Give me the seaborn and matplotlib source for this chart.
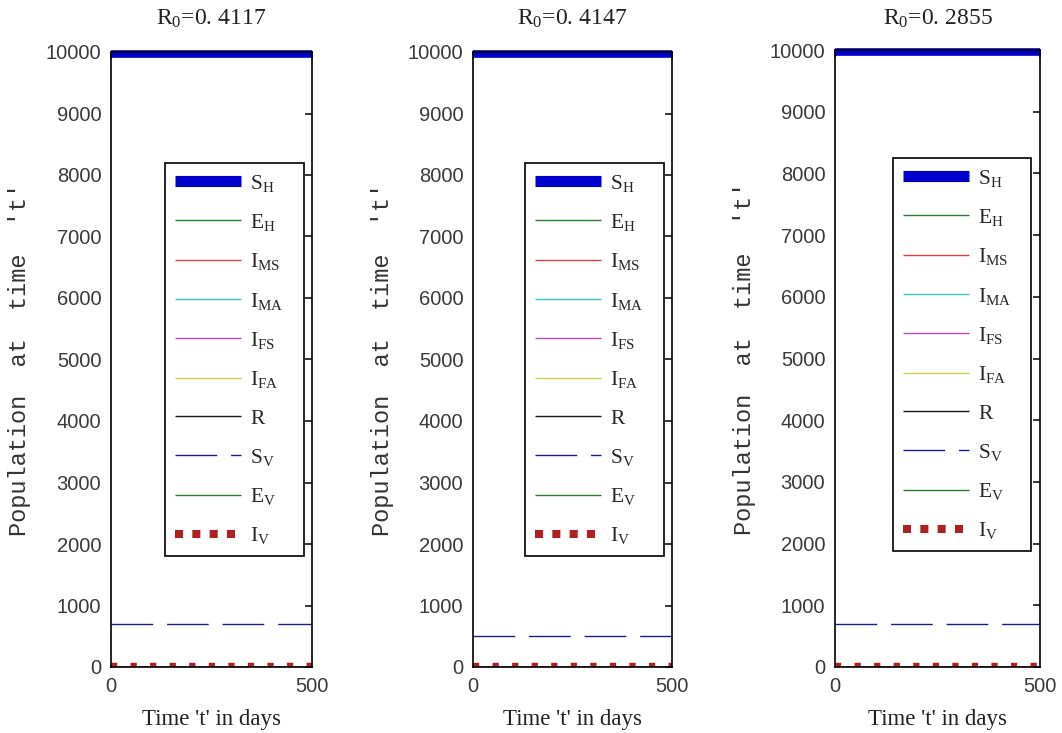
import matplotlib
matplotlib.use("Agg")
import matplotlib.pyplot as plt
import seaborn as sns
import numpy as np

# ---- data ----
t_days = [0, 500]
titles = ["R$_0$=0. 4117", "R$_0$=0. 4147", "R$_0$=0. 2855"]
series_names = ["S_H", "E_H", "I_MS", "I_MA", "I_FS", "I_FA", "R", "S_V", "E_V", "I_V"]
legend_labels = [r"$\mathrm{S_H}$", r"$\mathrm{E_H}$", r"$\mathrm{I_{MS}}$", r"$\mathrm{I_{MA}}$",
                 r"$\mathrm{I_{FS}}$", r"$\mathrm{I_{FA}}$", "R", r"$\mathrm{S_V}$",
                 r"$\mathrm{E_V}$", r"$\mathrm{I_V}$"]
# constant (equilibrium) levels per panel
S_H = [9965, 9965, 9965]
E_H = [0, 0, 0]
I_MS = [0, 0, 0]
I_MA = [0, 0, 0]
I_FS = [0, 0, 0]
I_FA = [0, 0, 0]
R_ = [0, 0, 0]
S_V = [700, 510, 690]
E_V = [3, 3, 3]
I_V = [25, 25, 25]
panel_values = [S_H, E_H, I_MS, I_MA, I_FS, I_FA, R_, S_V, E_V, I_V]
y_ticks = list(range(0, 10001, 1000))
x_ticks = [0, 500]

# ---- styles ----
colors = ["#0000cc", "#2a7f2a", "#d84040", "#40c4c4", "#b848b8", "#cccc40",
          "#151515", "#1a1a8c", "#2a7f2a", "#b02020"]
widths = [5.5, 1.0, 1.0, 1.0, 1.0, 1.0, 1.0, 1.0, 1.0, 3.2]
leg_widths = [8.0, 1.0, 1.0, 1.0, 1.0, 1.0, 1.0, 1.0, 1.0, 5.8]
styles = ["-", "-", "-", "-", "-", "-", "-", (0, (30, 10)), "-", (0, (1.4, 3.0))]

sns.set_theme(style="white")
plt.rcParams["font.family"] = ["Liberation Serif", "DejaVu Serif"]
plt.rcParams["mathtext.fontset"] = "custom"
plt.rcParams["mathtext.rm"] = "Liberation Serif"
plt.rcParams["mathtext.it"] = "Liberation Serif:italic"
plt.rcParams["mathtext.bf"] = "Liberation Serif:bold"
plt.rcParams["lines.solid_capstyle"] = "butt"

fig = plt.figure(figsize=(10.62, 7.33), dpi=100)
W, H = 1062.0, 733.0
boxes = [(111, 312, 52, 667), (473, 672, 52, 667), (835, 1040, 50, 667)]
leg_boxes = [(165, 304, 163, 552), (525, 664, 163, 555), (893, 1031, 158, 557)]

for p in range(3):
    x0, x1, y0, y1 = boxes[p]
    ax = fig.add_axes([x0 / W, (H - y1) / H, (x1 - x0) / W, (y1 - y0) / H])
    for k in range(len(series_names)):
        v = panel_values[k][p]
        sns.lineplot(x=t_days, y=[v, v], ax=ax, color=colors[k], linewidth=widths[k],
                     linestyle=styles[k], label=legend_labels[k], legend=False,
                     clip_on=(k != 0))
    ax.set_xlim(0, 500)
    ax.set_ylim(0, 10000)
    ax.set_xticks(x_ticks)
    ax.set_yticks(y_ticks)
    ax.tick_params(axis="both", direction="in", length=5, width=1.1, colors="black",
                   labelcolor="#3a3a3a", labelsize=14.5, pad=7,
                   right=True, top=True)
    for lab in ax.get_xticklabels() + ax.get_yticklabels():
        lab.set_fontfamily(["Liberation Sans", "DejaVu Sans"])
    for s in ax.spines.values():
        s.set_color("black")
        s.set_linewidth(1.2)
        s.set_visible(True)
    ax.grid(False)
    pw, ph = x1 - x0, y1 - y0
    ax.set_title(titles[p], fontsize=17, y=1 + (y0 - 25) / ph, pad=0, va="baseline",
                 color="#222222")
    ax.set_xlabel("Time 't' in days", fontsize=16.5, va="center", color="#222222")
    ax.xaxis.set_label_coords(0.5, -(720 - y1) / ph)
    ax.set_ylabel("Population  at  time  't'", fontsize=17, va="center",
                  family=["Liberation Mono", "DejaVu Sans Mono"], color="#333333")
    ax.yaxis.set_label_coords(-91 / pw, 0.5)

    lx0, lx1, ly0, ly1 = leg_boxes[p]
    bx = (lx0 - x0) / pw
    bw = (lx1 - lx0) / pw
    by = (y1 - ly1) / ph
    bh = (ly1 - ly0) / ph
    leg = ax.legend(loc="upper left", bbox_to_anchor=(bx, by, bw, bh), mode="expand",
                    fontsize=15.5, handlelength=3.1, handletextpad=0.42,
                    labelspacing=0.85, borderpad=0.45, borderaxespad=0,
                    frameon=True, fancybox=False, framealpha=1, edgecolor="black")
    leg.get_frame().set_linewidth(1.2)
    for h, lw in zip(leg.legend_handles, leg_widths):
        h.set_linewidth(lw)
    leg.legend_handles[-1].set_linestyle((0, (1.0, 1.15)))

fig.savefig("out.png", dpi=100)
